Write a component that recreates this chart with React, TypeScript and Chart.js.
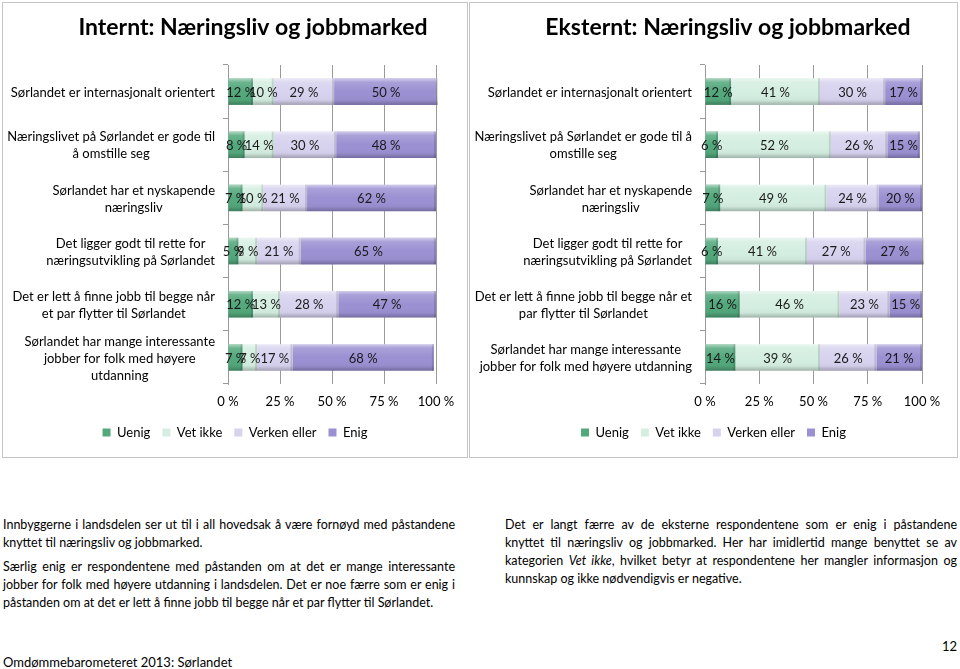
import React, { useEffect, useRef } from "react";
import { Chart, registerables } from "chart.js";
Chart.register(...registerables);

const FONT = "Lato, 'Open Sans', sans-serif";

const seriesNames = ["Uenig", "Vet ikke", "Verken eller", "Enig"];
const seriesColors = ["#52a87b", "#d4eee1", "#d7d2ee", "#9b90d2"];
const xTickValues = [0, 25, 50, 75, 100];

const internTitle = "Internt: Næringsliv og jobbmarked";
const internCategories = [
  ["Sørlandet er internasjonalt orientert"],
  ["Næringslivet på Sørlandet er gode til", "å omstille seg"],
  ["Sørlandet har et nyskapende", "næringsliv"],
  ["Det ligger godt til rette for", "næringsutvikling på Sørlandet"],
  ["Det er lett å finne jobb til begge når", "et par flytter til Sørlandet"],
  ["Sørlandet har mange interessante", "jobber for folk med høyere", "utdanning"],
];
const internUenig = [12, 8, 7, 5, 12, 7];
const internVetIkke = [10, 14, 10, 9, 13, 7];
const internVerken = [29, 30, 21, 21, 28, 17];
const internEnig = [50, 48, 62, 65, 47, 68];

const eksternTitle = "Eksternt: Næringsliv og jobbmarked";
const eksternCategories = [
  ["Sørlandet er internasjonalt orientert"],
  ["Næringslivet på Sørlandet er gode til å", "omstille seg"],
  ["Sørlandet har et nyskapende", "næringsliv"],
  ["Det ligger godt til rette for", "næringsutvikling på Sørlandet"],
  ["Det er lett å finne jobb til begge når et", "par flytter til Sørlandet"],
  ["Sørlandet har mange interessante", "jobber for folk med høyere utdanning"],
];
const eksternUenig = [12, 6, 7, 6, 16, 14];
const eksternVetIkke = [41, 52, 49, 41, 46, 39];
const eksternVerken = [30, 26, 24, 27, 23, 26];
const eksternEnig = [17, 15, 20, 27, 15, 21];

const bevelPlugin = {
  id: "bevel",
  afterDatasetsDraw(chart: any) {
    const ctx = chart.ctx;
    ctx.save();
    chart.data.datasets.forEach((_: any, di: number) => {
      const meta = chart.getDatasetMeta(di);
      meta.data.forEach((el: any) => {
        const { x, y, base, height } = el.getProps(["x", "y", "base", "height"], true);
        const left = Math.min(x, base);
        const w = Math.abs(x - base);
        const top = y - height / 2;
        const g = ctx.createLinearGradient(0, top, 0, top + height);
        g.addColorStop(0, "rgba(255,255,255,0.55)");
        g.addColorStop(0.15, "rgba(255,255,255,0.15)");
        g.addColorStop(0.5, "rgba(255,255,255,0)");
        g.addColorStop(0.82, "rgba(0,0,0,0.03)");
        g.addColorStop(1, "rgba(0,0,0,0.25)");
        ctx.fillStyle = g;
        ctx.fillRect(left, top, w, height);
        ctx.fillStyle = "rgba(0,0,0,0.12)";
        ctx.fillRect(left + w - 2, top, 2, height);
      });
    });
    ctx.restore();
  },
};

const valueLabelPlugin = {
  id: "valueLabels",
  afterDatasetsDraw(chart: any) {
    const ctx = chart.ctx;
    ctx.save();
    ctx.font = `13px ${FONT}`;
    ctx.fillStyle = "#1a1a1a";
    ctx.textAlign = "center";
    ctx.textBaseline = "middle";
    chart.data.datasets.forEach((ds: any, di: number) => {
      const meta = chart.getDatasetMeta(di);
      meta.data.forEach((el: any, i: number) => {
        const { x, y, base } = el.getProps(["x", "y", "base"], true);
        ctx.fillText(`${ds.data[i]} %`, (x + base) / 2, y + 1);
      });
    });
    ctx.restore();
  },
};

const catLabelPlugin = {
  id: "catLabels",
  afterDraw(chart: any, _args: any, opts: any) {
    const ctx = chart.ctx;
    const yScale = chart.scales.y;
    ctx.save();
    ctx.font = `${opts.size}px ${FONT}`;
    ctx.fillStyle = "#000";
    ctx.textAlign = "center";
    ctx.textBaseline = "middle";
    const right = chart.chartArea.left - opts.gap;
    chart.data.labels.forEach((lab: any, i: number) => {
      const lines: string[] = Array.isArray(lab) ? lab : [lab];
      const w = Math.max(...lines.map((l) => ctx.measureText(l).width));
      const cx = right - w / 2;
      const cy = yScale.getPixelForValue(i);
      lines.forEach((ln, k) => {
        ctx.fillText(ln, cx, cy + (k - (lines.length - 1) / 2) * opts.lineHeight + 1);
      });
    });
    ctx.restore();
  },
};

const titlePlugin = {
  id: "posTitle",
  afterDraw(chart: any, _args: any, opts: any) {
    const ctx = chart.ctx;
    ctx.save();
    ctx.font = `bold ${opts.size}px ${FONT}`;
    ctx.fillStyle = "#000";
    ctx.textAlign = "center";
    ctx.textBaseline = "middle";
    ctx.fillText(opts.text, opts.x, opts.y);
    ctx.restore();
  },
};

function makeChart(
  canvas: HTMLCanvasElement,
  title: string,
  titleX: number,
  categories: string[][],
  series: number[][],
  yWidth: number,
  rightPad: number
) {
  const font = { family: FONT, size: 13 };
  return new Chart(canvas, {
    type: "bar",
    data: {
      labels: categories as any,
      datasets: series.map((vals, i) => ({
        label: seriesNames[i],
        data: vals,
        backgroundColor: seriesColors[i],
        borderWidth: 0,
        barPercentage: 0.5,
        categoryPercentage: 1,
      })),
    },
    options: {
      indexAxis: "y",
      responsive: false,
      maintainAspectRatio: false,
      animation: false,
      layout: { padding: { top: 62, right: 0, bottom: 8, left: 0 } },
      scales: {
        x: {
          stacked: true,
          min: 0,
          max: 100,
          afterBuildTicks: (s: any) => {
            s.ticks = xTickValues.map((v) => ({ value: v }));
          },
          ticks: {
            callback: (v: any) => `${v} %`,
            padding: 10,
            color: "#000",
            font,
            maxRotation: 0,
          },
          grid: { color: "#9a9a9a", drawTicks: false },
          border: { display: false },
          afterFit: (s: any) => {
            s.height = 30;
          },
        },
        y: {
          stacked: true,
          ticks: { display: false },
          grid: { drawOnChartArea: false, tickLength: 5, color: "#9a9a9a", offset: true },
          border: { display: true, color: "#9a9a9a" },
          afterFit: (s: any) => {
            s.width = yWidth;
          },
        },
        yRightSpace: {
          type: "linear",
          position: "right",
          display: true,
          ticks: { display: false },
          grid: { display: false, drawTicks: false },
          border: { display: false },
          afterFit: (s: any) => {
            s.width = rightPad;
          },
        },
      },
      plugins: {
        legend: {
          position: "bottom",
          labels: { boxWidth: 8, boxHeight: 8, padding: 12, color: "#000", font: { family: FONT, size: 13 } },
        },
        tooltip: { enabled: false },
        title: { display: false },
        catLabels: { size: 13, gap: 13, lineHeight: 17 },
        posTitle: { text: title, x: titleX, y: 25, size: 23 },
      } as any,
    },
    plugins: [bevelPlugin, valueLabelPlugin, catLabelPlugin, titlePlugin],
  } as any);
}

const lineStyle: React.CSSProperties = {
  textAlign: "justify",
  textAlignLast: "justify" as any,
  height: 18,
  lineHeight: "18px",
};
const lastStyle: React.CSSProperties = { height: 18, lineHeight: "18px" };

export default function App() {
  const leftRef = useRef<HTMLCanvasElement>(null);
  const rightRef = useRef<HTMLCanvasElement>(null);

  useEffect(() => {
    const c1 = makeChart(
      leftRef.current!,
      internTitle,
      250,
      internCategories,
      [internUenig, internVetIkke, internVerken, internEnig],
      225,
      31
    );
    const c2 = makeChart(
      rightRef.current!,
      eksternTitle,
      258,
      eksternCategories,
      [eksternUenig, eksternVetIkke, eksternVerken, eksternEnig],
      235,
      35
    );
    return () => {
      c1.destroy();
      c2.destroy();
    };
  }, []);

  return (
    <div
      style={{
        position: "fixed",
        left: 0,
        top: 0,
        width: 960,
        height: 669,
        background: "#fff",
        overflow: "hidden",
        fontFamily: FONT,
        color: "#000",
      }}
    >
      <div style={{ position: "absolute", left: 2, top: 2, width: 464, height: 454, border: "1px solid #c4c4c4" }}>
        <canvas ref={leftRef} width={464} height={454} style={{ display: "block" }} />
      </div>
      <div style={{ position: "absolute", left: 469, top: 2, width: 487, height: 454, border: "1px solid #c4c4c4" }}>
        <canvas ref={rightRef} width={487} height={454} style={{ display: "block" }} />
      </div>

      <div style={{ position: "absolute", left: 3, top: 516, width: 452, fontSize: 12.5 }}>
        <div style={lineStyle}>Innbyggerne i landsdelen ser ut til i all hovedsak å være fornøyd med påstandene</div>
        <div style={lastStyle}>knyttet til næringsliv og jobbmarked.</div>
        <div style={{ ...lineStyle, marginTop: 6 }}>
          Særlig enig er respondentene med påstanden om at det er mange interessante
        </div>
        <div style={lineStyle}>jobber for folk med høyere utdanning i landsdelen. Det er noe færre som er enig i</div>
        <div style={lastStyle}>påstanden om at det er lett å finne jobb til begge når et par flytter til Sørlandet.</div>
      </div>

      <div style={{ position: "absolute", left: 505, top: 516, width: 452, fontSize: 12.5 }}>
        <div style={lineStyle}>Det er langt færre av de eksterne respondentene som er enig i påstandene</div>
        <div style={lineStyle}>knyttet til næringsliv og jobbmarked. Her har imidlertid mange benyttet se av</div>
        <div style={lineStyle}>
          kategorien <i>Vet ikke</i>, hvilket betyr at respondentene her mangler informasjon og
        </div>
        <div style={lastStyle}>kunnskap og ikke nødvendigvis er negative.</div>
      </div>

      <div style={{ position: "absolute", right: 3, top: 637, fontSize: 13, lineHeight: "18px" }}>12</div>
      <div style={{ position: "absolute", left: 3, top: 653, fontSize: 13, lineHeight: "18px" }}>
        Omdømmebarometeret 2013: Sørlandet
      </div>
    </div>
  );
}
